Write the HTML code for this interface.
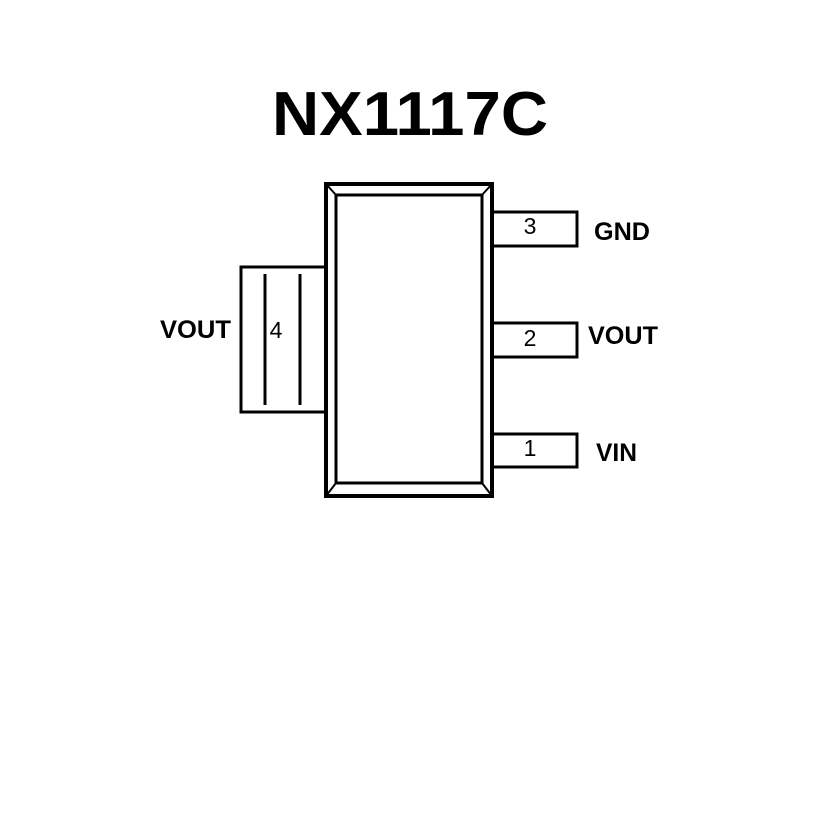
<!DOCTYPE html>
<html><head><style>html,body{margin:0;padding:0;background:#fff}</style></head>
<body>
<svg width="827" height="827" viewBox="0 0 827 827" xmlns="http://www.w3.org/2000/svg">
<rect width="827" height="827" fill="#fff"/>
<text x="410" y="135" text-anchor="middle" font-family="Liberation Sans, sans-serif" font-weight="bold" font-size="62" textLength="276" lengthAdjust="spacingAndGlyphs">NX1117C</text>
<g fill="none" stroke="#000">
<rect x="326" y="184" width="166" height="312" stroke-width="4"/>
<rect x="336" y="195" width="146" height="288" stroke-width="3"/>
<line x1="326" y1="184" x2="336" y2="195" stroke-width="2"/>
<line x1="492" y1="184" x2="482" y2="195" stroke-width="2"/>
<line x1="326" y1="496" x2="336" y2="483" stroke-width="2"/>
<line x1="492" y1="496" x2="482" y2="483" stroke-width="2"/>
<polyline points="494,212 577,212 577,246 494,246" stroke-width="3"/>
<polyline points="494,323 577,323 577,357 494,357" stroke-width="3"/>
<polyline points="494,434 577,434 577,467 494,467" stroke-width="3"/>
<polyline points="324,267 241,267 241,412 324,412" stroke-width="3"/>
<line x1="265" y1="274" x2="265" y2="405" stroke-width="3"/>
<line x1="300" y1="274" x2="300" y2="405" stroke-width="3"/>
</g>
<g font-family="Liberation Sans, sans-serif" font-size="23">
<text x="530" y="234" text-anchor="middle">3</text>
<text x="530" y="346" text-anchor="middle">2</text>
<text x="530" y="456" text-anchor="middle">1</text>
<text x="276" y="338" text-anchor="middle">4</text>
</g>
<g font-family="Liberation Sans, sans-serif" font-size="25" font-weight="bold">
<text x="594" y="240" textLength="56" lengthAdjust="spacingAndGlyphs">GND</text>
<text x="588" y="344" textLength="70" lengthAdjust="spacingAndGlyphs">VOUT</text>
<text x="596" y="461" textLength="41" lengthAdjust="spacingAndGlyphs">VIN</text>
<text x="160" y="338" textLength="71" lengthAdjust="spacingAndGlyphs">VOUT</text>
</g>
</svg>
</body></html>
